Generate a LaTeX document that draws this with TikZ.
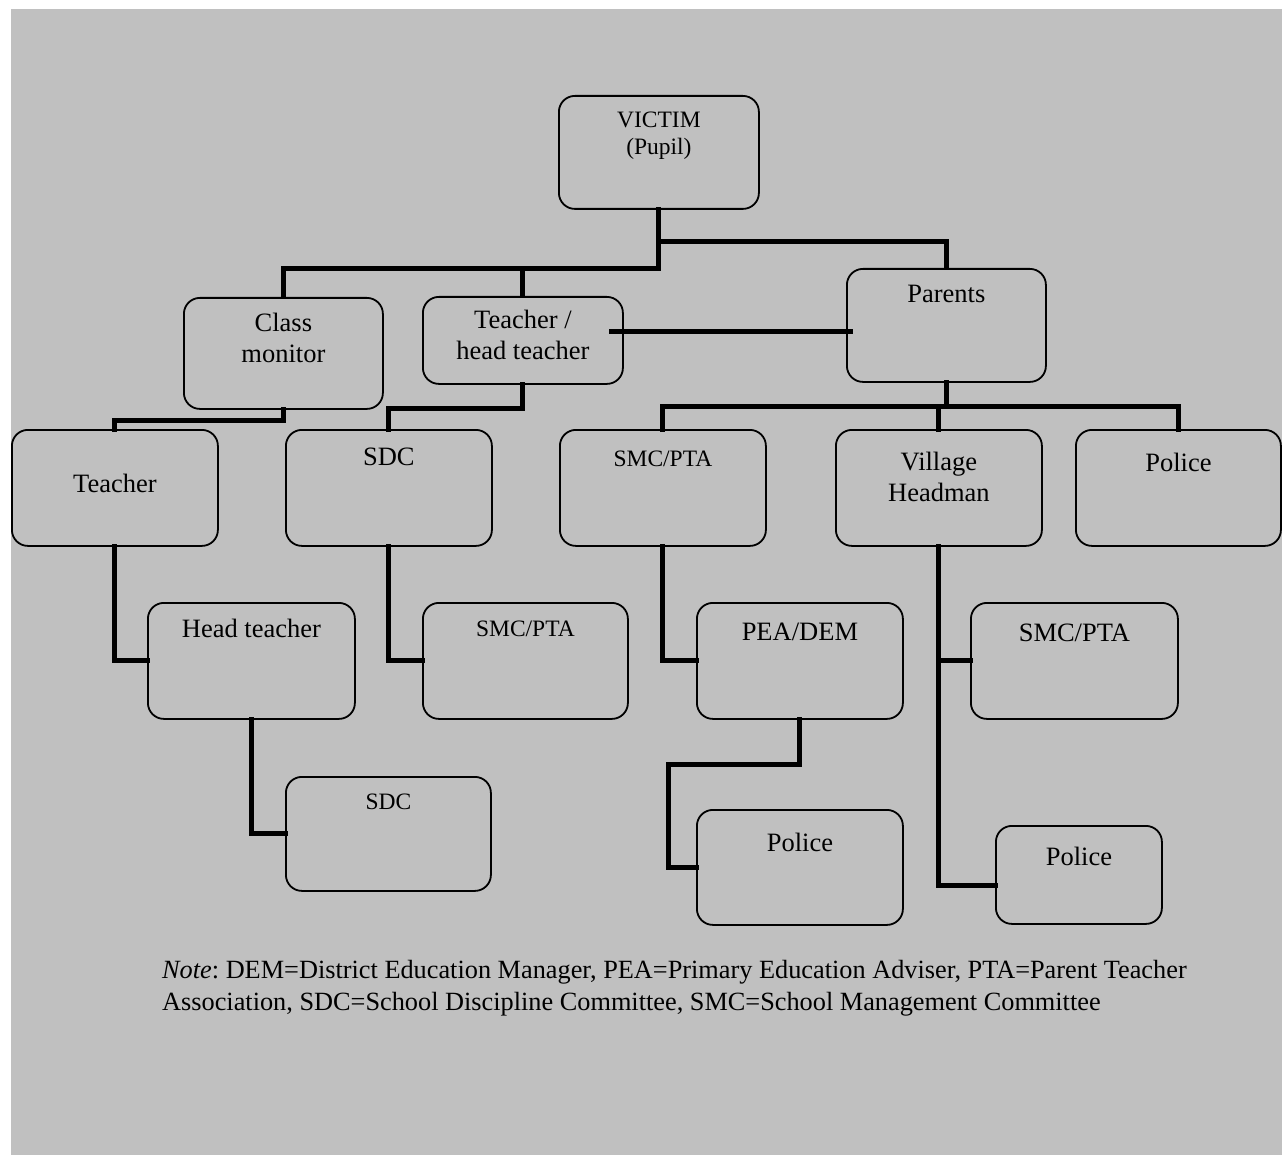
\documentclass[tikz,border=0pt]{standalone}
\usepackage{fontspec}
\setmainfont{Liberation Serif}
\definecolor{bggray}{HTML}{C0C0C0}
\begin{document}
\begin{tikzpicture}[x=1pt,y=-1pt,
  box/.style={draw=black, line width=1.8pt, rounded corners=16pt, inner sep=0pt, anchor=north west},
  lbl/.style={anchor=north, align=center, inner sep=0pt, font=\fontsize{26.5}{31}\selectfont},
  lblsm/.style={lbl, font=\fontsize{23.5}{27}\selectfont},
  conn/.style={line width=5pt, line join=miter, line cap=rect},
  note/.style={anchor=base west, inner sep=0pt, font=\fontsize{26.3}{32}\selectfont\frenchspacing}]
\useasboundingbox (0,0) rectangle (1282,1155);
\fill[bggray] (11,9) rectangle (1282,1155);
% boxes
\node[box, minimum width=200pt, minimum height=113pt] (victim) at (558,95) {};
\node[box, minimum width=199pt, minimum height=111pt] (classmon) at (183,297) {};
\node[box, minimum width=200pt, minimum height=87pt] (teachhead) at (422,296) {};
\node[box, minimum width=199pt, minimum height=113pt] (parents) at (846,268) {};
\node[box, minimum width=206pt, minimum height=116pt] (teacher) at (11,429) {};
\node[box, minimum width=206pt, minimum height=116pt] (sdcA) at (285,429) {};
\node[box, minimum width=206pt, minimum height=116pt] (smcA) at (559,429) {};
\node[box, minimum width=206pt, minimum height=116pt] (village) at (835,429) {};
\node[box, minimum width=205pt, minimum height=116pt] (policeA) at (1075,429) {};
\node[box, minimum width=207pt, minimum height=116pt] (headt) at (147,602) {};
\node[box, minimum width=205pt, minimum height=116pt] (smcB) at (422,602) {};
\node[box, minimum width=206pt, minimum height=116pt] (pea) at (696,602) {};
\node[box, minimum width=207pt, minimum height=116pt] (smcC) at (970,602) {};
\node[box, minimum width=205pt, minimum height=114pt] (sdcB) at (285,776) {};
\node[box, minimum width=206pt, minimum height=115pt] (policeB) at (696,809) {};
\node[box, minimum width=166pt, minimum height=98pt] (policeC) at (995,825) {};
% labels
\node[lblsm] (victimT) at (victim.north |- 0,112) {VICTIM\\(Pupil)};
\node[lbl] (classmonT) at (classmon.north |- 0,313) {Class\\monitor};
\node[lbl] (teachheadT) at (teachhead.north |- 0,310) {Teacher /\\head teacher};
\node[lbl] (parentsT) at (parents.north |- 0,285) {Parents};
\node[lbl] (teacherT) at (teacher.north |- 0,474) {Teacher};
\node[lbl] (sdcAT) at (sdcA.north |- 0,448) {SDC};
\node[lblsm] (smcAT) at (smcA.north |- 0,451) {SMC/PTA};
\node[lbl] (villageT) at (village.north |- 0,452) {Village\\Headman};
\node[lbl] (policeAT) at (policeA.north |- 0,453) {Police};
\node[lbl] (headtT) at (headt.north |- 0,619) {Head teacher};
\node[lblsm] (smcBT) at (smcB.north |- 0,621) {SMC/PTA};
\node[lbl] (peaT) at (pea.north |- 0,623) {PEA/DEM};
\node[lbl] (smcCT) at (smcC.north |- 0,624) {SMC/PTA};
\node[lblsm] (sdcBT) at (sdcB.north |- 0,794) {SDC};
\node[lbl] (policeBT) at (policeB.north |- 0,833) {Police};
\node[lbl] (policeCT) at (policeC.north |- 0,847) {Police};
% connectors
\draw[conn] (victim.south) -- ++(0,59) -| (classmon.north);
\draw[conn] (victim.south) -- ++(0,59) -| (teachhead.north);
\draw[conn] (victim.south) -- ++(0,32) -| (parents.north);
\coordinate (thp) at ([xshift=-12pt,yshift=8.5pt]teachhead.east);
\draw[conn] (thp) -- ([xshift=4pt]thp -| parents.west);
\draw[conn] (classmon.south) -- ++(0,11) -| (teacher.north);
\draw[conn] (teachhead.south) -- ++(0,24) -| (sdcA.north);
\draw[conn] (parents.south) -- ++(0,24) -| (smcA.north);
\draw[conn] (parents.south) -- ++(0,24) -| (village.north);
\draw[conn] (parents.south) -- ++(0,24) -| (policeA.north);
\draw[conn] (teacher.south) |- (headt.west);
\draw[conn] (sdcA.south) |- (smcB.west);
\draw[conn] (smcA.south) |- (pea.west);
\draw[conn] (village.south) |- (smcC.west);
\draw[conn] (village.south) |- ([yshift=-11pt]policeC.west);
\draw[conn] (headt.south) |- (sdcB.west);
\draw[conn] (pea.south) -- ++(0,45) -| ([xshift=-28pt]policeB.west) -- (policeB.west);
% note
\node[note] (note1) at (162,978) {\textit{Note}: DEM=District Education Manager, PEA=Primary Education Adviser, PTA=Parent Teacher};
\node[note] (note2) at (162,1010) {Association, SDC=School Discipline Committee, SMC=School Management Committee};
\end{tikzpicture}
\end{document}
